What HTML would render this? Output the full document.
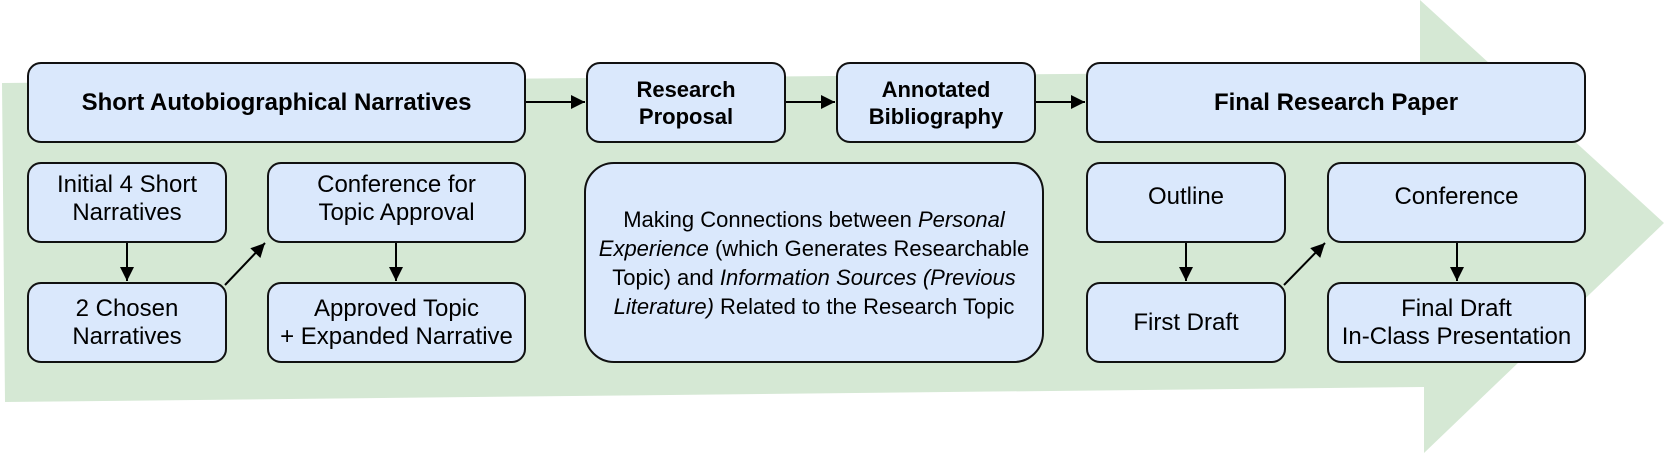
<!DOCTYPE html>
<html><head><meta charset="utf-8"><style>
html,body{margin:0;padding:0;background:#fff}
body{width:1666px;height:458px;position:relative;overflow:hidden;font-family:"Liberation Sans",Arial,sans-serif}
svg{position:absolute;left:0;top:0}
.b{position:absolute;box-sizing:border-box;background:#dae8fc;border:2px solid #111;border-radius:14px;display:flex;align-items:center;justify-content:center;text-align:center;font-size:24px;line-height:28px;color:#000}
.bold{font-weight:bold}
.s{font-size:22px;line-height:27px}
</style></head><body>
<svg width="1666" height="458">
<polygon points="2,83 1420,71 1420,0 1664,223 1424,453 1424,387 5,402" fill="#d5e8d4"/>
<defs>
<marker id="m" viewBox="0 0 10 10" markerWidth="15" markerHeight="14" refX="10" refY="5" orient="auto" markerUnits="userSpaceOnUse"><path d="M0,0 L10,5 L0,10z" fill="#000"/></marker></defs>
<g stroke="#000" stroke-width="2" fill="none">
<line x1="526" y1="102" x2="585" y2="102" marker-end="url(#m)"/>
<line x1="786" y1="102" x2="835" y2="102" marker-end="url(#m)"/>
<line x1="1036" y1="102" x2="1085" y2="102" marker-end="url(#m)"/>
<line x1="127" y1="242" x2="127" y2="281" marker-end="url(#m)"/>
<line x1="396" y1="242" x2="396" y2="281" marker-end="url(#m)"/>
<line x1="1186" y1="242" x2="1186" y2="281" marker-end="url(#m)"/>
<line x1="1457" y1="242" x2="1457" y2="281" marker-end="url(#m)"/>
<line x1="225" y1="285" x2="265" y2="243" marker-end="url(#m)"/>
<line x1="1284" y1="285" x2="1325" y2="243" marker-end="url(#m)"/>
</g>
</svg>
<div class="b bold" style="left:27px;top:62px;width:499px;height:81px">Short Autobiographical Narratives</div>
<div class="b bold s" style="left:586px;top:62px;width:200px;height:81px">Research<br>Proposal</div>
<div class="b bold s" style="left:836px;top:62px;width:200px;height:81px">Annotated<br>Bibliography</div>
<div class="b bold" style="left:1086px;top:62px;width:500px;height:81px">Final Research Paper</div>
<div class="b" style="left:27px;top:162px;width:200px;height:81px;padding-bottom:8px">Initial 4 Short<br>Narratives</div>
<div class="b" style="left:267px;top:162px;width:259px;height:81px;padding-bottom:8px">Conference for<br>Topic Approval</div>
<div class="b" style="left:27px;top:282px;width:200px;height:81px">2 Chosen<br>Narratives</div>
<div class="b" style="left:267px;top:282px;width:259px;height:81px">Approved Topic<br>+ Expanded Narrative</div>
<div class="b" style="left:584px;top:162px;width:460px;height:201px;border-radius:30px;font-size:22px;line-height:29px;padding:0 6px">
<div>Making Connections between <i>Personal Experience</i> (which Generates Researchable Topic) and <i>Information Sources (Previous Literature)</i> Related to the Research Topic</div></div>
<div class="b" style="left:1086px;top:162px;width:200px;height:81px;padding-bottom:12px">Outline</div>
<div class="b" style="left:1327px;top:162px;width:259px;height:81px;padding-bottom:12px">Conference</div>
<div class="b" style="left:1086px;top:282px;width:200px;height:81px">First Draft</div>
<div class="b" style="left:1327px;top:282px;width:259px;height:81px">Final Draft<br>In-Class Presentation</div>
</body></html>
